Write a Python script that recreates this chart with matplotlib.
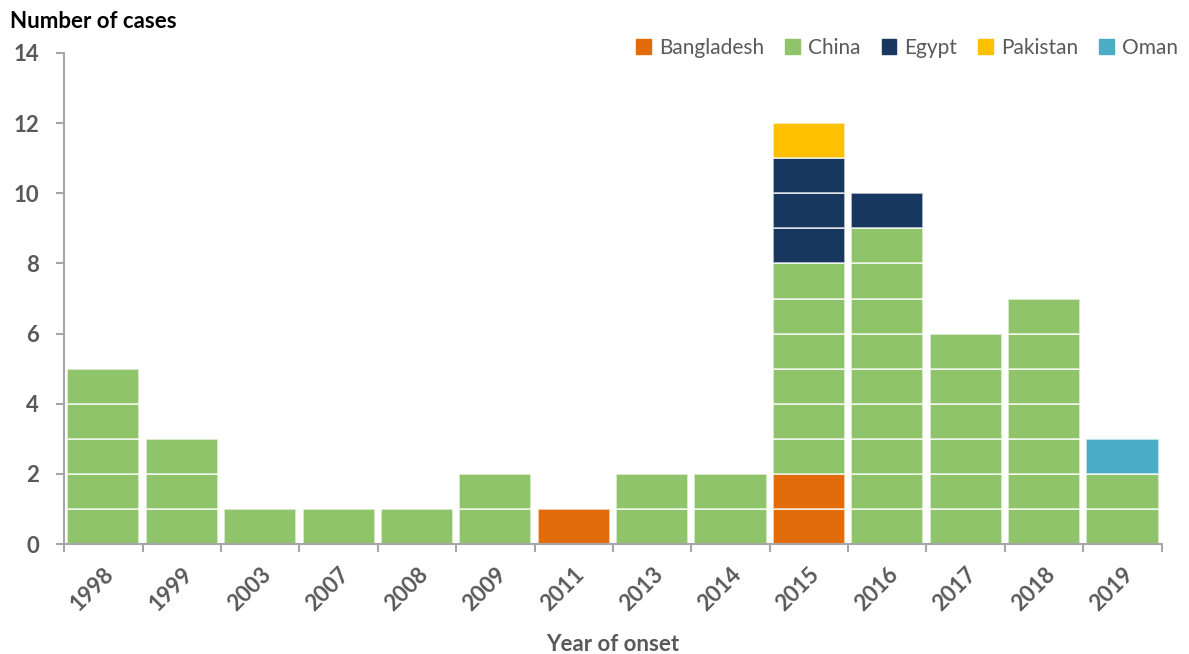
import matplotlib.pyplot as plt
import numpy as np

# cases by year of onset and country
years = ['1998', '1999', '2003', '2007', '2008', '2009', '2011',
         '2013', '2014', '2015', '2016', '2017', '2018', '2019']
bangladesh = [0, 0, 0, 0, 0, 0, 1, 0, 0, 2, 0, 0, 0, 0]
china      = [5, 3, 1, 1, 1, 2, 0, 2, 2, 6, 9, 6, 7, 2]
egypt      = [0, 0, 0, 0, 0, 0, 0, 0, 0, 3, 1, 0, 0, 0]
pakistan   = [0, 0, 0, 0, 0, 0, 0, 0, 0, 1, 0, 0, 0, 0]
oman       = [0, 0, 0, 0, 0, 0, 0, 0, 0, 0, 0, 0, 0, 1]

series = [('Bangladesh', bangladesh, '#E36C0A'),
          ('China', china, '#8FC46B'),
          ('Egypt', egypt, '#17375E'),
          ('Pakistan', pakistan, '#FFC000'),
          ('Oman', oman, '#4BACC6')]

plt.rcParams['font.family'] = ['Lato', 'DejaVu Sans']
grey = '#595959'

fig = plt.figure(figsize=(11.89, 6.54), dpi=100)
ax = fig.add_axes([0.054, 0.168, 0.923, 0.751])

x = np.arange(len(years))
base = np.zeros(len(years))
handles = []
for name, vals, col in series:
    for i, v in enumerate(vals):
        # one box per case, stacked
        for k in range(v):
            ax.bar(x[i], 1, bottom=base[i] + k, width=0.92, color=col,
                   edgecolor=(1, 1, 1, 0.7), linewidth=1.3)
    base += np.array(vals)
    handles.append(plt.Rectangle((0, 0), 1, 1, color=col, label=name))

ax.set_xlim(-0.5, len(years) - 0.5)
ax.set_ylim(0, 14)
ax.set_yticks(range(0, 15, 2))
ax.set_xticks(x)
ax.set_xticklabels(years, rotation=45, ha='right', rotation_mode='anchor')
ax.set_xticks(np.arange(-0.5, len(years)), minor=True)
ax.tick_params(axis='x', which='major', length=0, pad=14)
ax.tick_params(axis='x', which='minor', length=6, color='#A6A6A6', width=1.5)
ax.tick_params(axis='y', length=6, color='#A6A6A6', width=1.5, pad=12)
for lab in ax.get_xticklabels() + ax.get_yticklabels():
    lab.set_fontsize(16)
    lab.set_fontweight('bold')
    lab.set_color(grey)

for s in ['top', 'right']:
    ax.spines[s].set_visible(False)
for s in ['left', 'bottom']:
    ax.spines[s].set_color('#A6A6A6')
    ax.spines[s].set_linewidth(1.5)

ax.set_xlabel('Year of onset', fontsize=16, fontweight='bold', color=grey, labelpad=14)
fig.text(0.008, 0.967, 'Number of cases', fontsize=16, fontweight='bold',
         color='black', va='center')

leg = ax.legend(handles=handles, loc='center right', bbox_to_anchor=(1.032, 1.01),
                ncol=5, frameon=False, fontsize=15, handlelength=0.7,
                handleheight=0.7, handletextpad=0.4, columnspacing=1.0)
for t in leg.get_texts():
    t.set_color(grey)

fig.savefig('out.png', dpi=100)
